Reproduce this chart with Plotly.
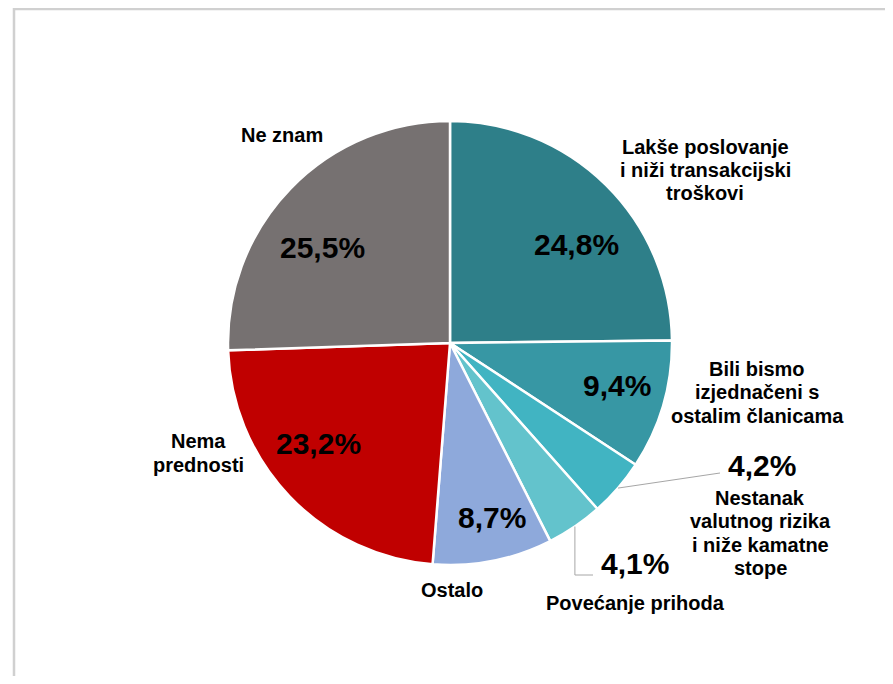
import math

import plotly.graph_objects as go

# Data
labels = [
    "Lakše poslovanje<br>i niži transakcijski<br>troškovi",
    "Bili bismo<br>izjednačeni s<br>ostalim članicama",
    "Nestanak<br>valutnog rizika<br>i niže kamatne<br>stope",
    "Povećanje prihoda",
    "Ostalo",
    "Nema<br>prednosti",
    "Ne znam",
]
values = [24.8, 9.4, 4.2, 4.1, 8.7, 23.2, 25.5]
colors = ["#2E7F89", "#3797A4", "#41B4C2", "#63C3CC", "#8EA9DB", "#C00000", "#767171"]

W, H = 893, 684
OFF = 8  # page body margin
FW, FH = W - OFF, H - 2 * OFF  # keep the page free of scrollbars
CX, CY, R = 450 - OFF, 343 - OFF, 222
FONT = "Liberation Sans, Arial, sans-serif"
LINE_H = 23.5


def px(x, y):
    """figure pixel -> paper coords"""
    return x / FW, 1 - y / FH


def pct(v):
    return f"{v:.1f}%".replace(".", ",")


fig = go.Figure(go.Pie(
    labels=labels,
    values=values,
    sort=False,
    direction="clockwise",
    rotation=0,
    marker=dict(colors=colors, line=dict(color="#FFFFFF", width=2.5)),
    textinfo="none",
    hoverinfo="skip",
    domain=dict(x=[(CX - R) / FW, (CX + R) / FW], y=[1 - (CY + R) / FH, 1 - (CY - R) / FH]),
))

# label / percent positions (reference pixel centres)
label_pos = [(705, 170), (757, 392), (760, 533), (635, 603), (452, 590), (198, 453), (282, 135)]
pct_pos = [(576, 244), (617, 385), (762, 465), (635, 563), (492, 517), (318, 443), (322, 248)]

annotations = []
for lab, v, (lx, ly), (qx, qy) in zip(labels, values, label_pos, pct_pos):
    lines = lab.split("<br>")
    top = ly - LINE_H * (len(lines) - 1) / 2
    for k, line in enumerate(lines):
        x, y = px(lx - OFF, top + k * LINE_H - OFF)
        annotations.append(dict(
            x=x, y=y, xref="paper", yref="paper", text=f"<b>{line}</b>",
            xanchor="center", yanchor="middle", showarrow=False,
            font=dict(family=FONT, size=20, color="#000000"),
        ))
    x, y = px(qx - OFF, qy - OFF)
    annotations.append(dict(
        x=x, y=y, xref="paper", yref="paper", text=f"<b>{pct(v)}</b>",
        xanchor="center", yanchor="middle", showarrow=False,
        font=dict(family=FONT, size=30, color="#000000"),
    ))

# leader lines for the two small slices, starting on the slice edge
total = sum(values)
cum = [sum(values[:i]) for i in range(len(values))]


def edge(i):
    a = math.radians((cum[i] + values[i] / 2) / total * 360)
    return CX + R * math.sin(a), CY - R * math.cos(a)


shapes = []
ex, ey = edge(2)
p = [px(ex, ey), px(720 - OFF, 473 - OFF)]
shapes.append(dict(type="path", xref="paper", yref="paper",
                   path=f"M {p[0][0]},{p[0][1]} L {p[1][0]},{p[1][1]}",
                   line=dict(color="#A6A6A6", width=1)))
ex, ey = edge(3)
p = [px(ex, ey), px(ex, 575 - OFF), px(593 - OFF, 575 - OFF)]
shapes.append(dict(type="path", xref="paper", yref="paper",
                   path=f"M {p[0][0]},{p[0][1]} L {p[1][0]},{p[1][1]} L {p[2][0]},{p[2][1]}",
                   line=dict(color="#A6A6A6", width=1)))

# outer frame
x0, y1 = px(14 - OFF, 8 - OFF + 1)
shapes.append(dict(type="rect", xref="paper", yref="paper",
                   x0=x0, y0=-0.05, x1=1.05, y1=y1,
                   line=dict(color="#D0D0D0", width=2.5)))

fig.update_layout(
    width=FW, height=FH,
    margin=dict(t=0, b=0, l=0, r=0),
    paper_bgcolor="#FFFFFF",
    plot_bgcolor="#FFFFFF",
    showlegend=False,
    annotations=annotations,
    shapes=shapes,
)

fig.write_html("out.html")
